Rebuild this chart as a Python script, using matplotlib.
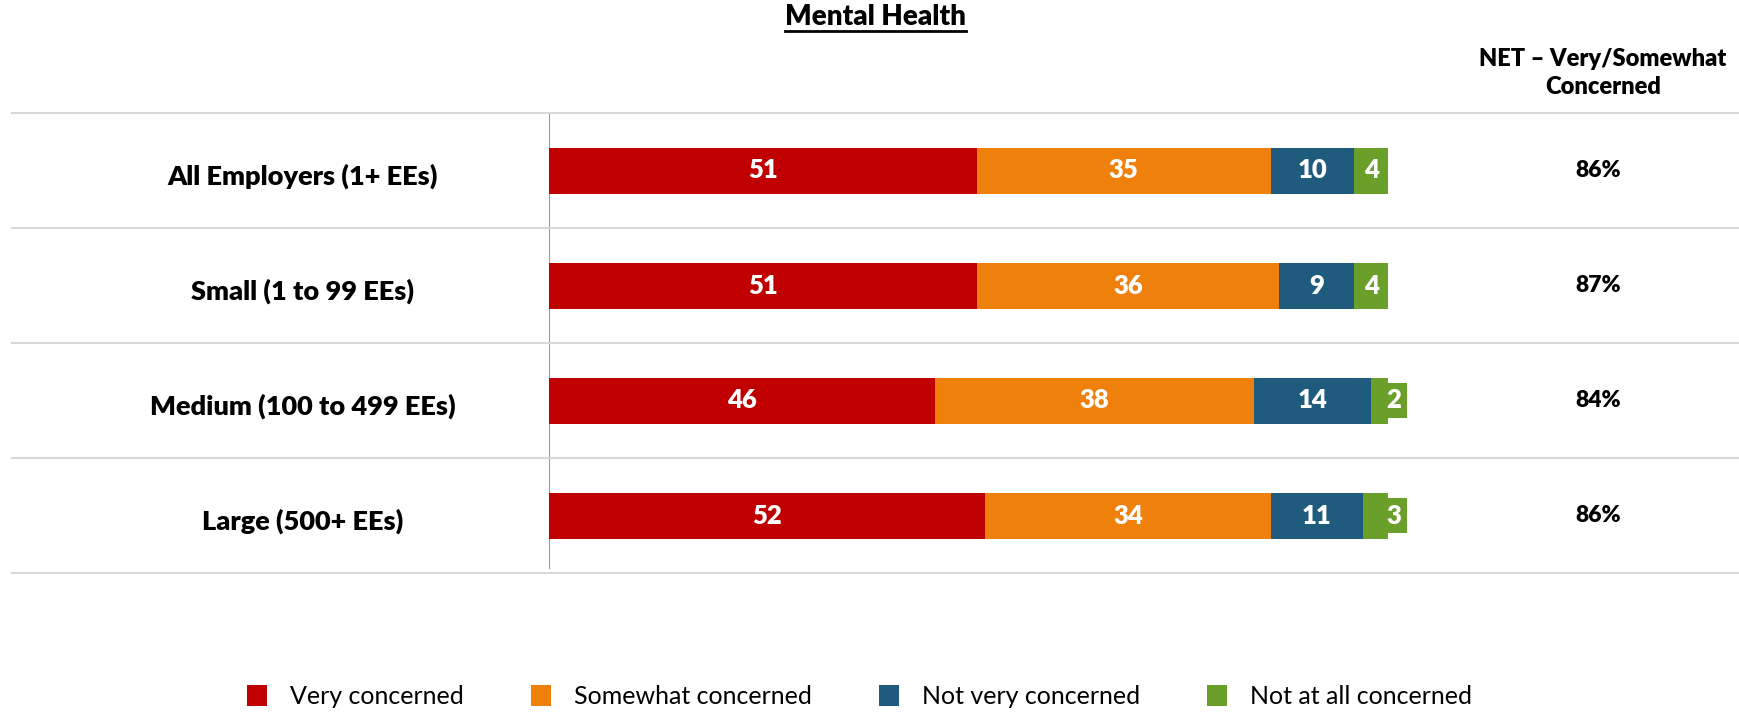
import matplotlib
matplotlib.use('Agg')
import matplotlib.pyplot as plt
from matplotlib.patches import Patch
from matplotlib.lines import Line2D
import numpy as np

plt.rcParams['font.family'] = ['Lato', 'DejaVu Sans']

# data
categories = ['All Employers (1+ EEs)', 'Small (1 to 99 EEs)',
              'Medium (100 to 499 EEs)', 'Large (500+ EEs)']
very = [51, 51, 46, 52]
somewhat = [35, 36, 38, 34]
not_very = [10, 9, 14, 11]
not_at_all = [4, 4, 2, 3]
net_concerned = [86, 87, 84, 86]
series_names = ['Very concerned', 'Somewhat concerned',
                'Not very concerned', 'Not at all concerned']
colors = ['#C00000', '#F0800C', '#1F5B7D', '#6A9F2A']


def main():
    fig = plt.figure(figsize=(17.4, 7.12), dpi=100)
    ax = fig.add_axes([549 / 1740, 1 - 573 / 712, 839 / 1740, 460 / 712])

    y = np.arange(len(categories))
    left = np.zeros(len(categories))
    for vals, name, col in zip([very, somewhat, not_very, not_at_all],
                               series_names, colors):
        ax.barh(y, vals, left=left, height=0.40, color=col, label=name)
        for yi, l, v in zip(y, left, vals):
            if v >= 4:
                ax.text(l + v / 2, yi, str(v), ha='center', va='center',
                        color='white', fontsize=18.5, fontweight='heavy')
            else:
                # small segment: label sits in a green box past the bar end
                ax.text(100.7, yi, str(v), ha='center', va='center',
                        color='white', fontsize=18.5, fontweight='heavy',
                        bbox=dict(boxstyle='square,pad=0.22', fc=col, ec='none'))
        left = left + np.array(vals)

    ax.set_xlim(0, 100)
    ax.set_ylim(len(categories) - 0.5, -0.5)
    ax.axis('off')

    # vertical axis line
    ax.axvline(0, ymin=0.01, ymax=0.995, color='#9a9a9a', lw=1.5, zorder=0)

    # row separators spanning the whole width
    for yy in np.arange(-0.5, len(categories), 1.0):
        ax.plot([-64.0, 142], [yy, yy], color='#d9d9d9', lw=1.5,
                clip_on=False, zorder=0)

    # category labels and NET values
    for yi, cat, net in zip(y, categories, net_concerned):
        ax.text(-29.4, yi + 0.05, cat, ha='center', va='center',
                fontsize=19.5, fontweight='heavy')
        ax.text(125.0, yi, f'{net}%', ha='center', va='center',
                fontsize=16.5, fontweight='heavy')

    ax.text(125.6, -0.85, 'NET \u2013 Very/Somewhat\nConcerned', ha='center',
            va='center', fontsize=17, fontweight='heavy', linespacing=1.35)

    title = fig.text(876 / 1740, 1 - 17 / 712, 'Mental Health', ha='center',
                     va='center', fontsize=20, fontweight='heavy')
    fig.canvas.draw()
    bb = title.get_window_extent().transformed(fig.transFigure.inverted())
    fig.add_artist(Line2D([bb.x0, bb.x1], [1 - 31 / 712, 1 - 31 / 712],
                          color='black', lw=2, transform=fig.transFigure))

    handles = [Patch(facecolor=c, edgecolor='none') for c in colors]
    fig.legend(handles, series_names, loc='center', ncol=4,
               bbox_to_anchor=(0.494, 0.022), frameon=False, fontsize=18,
               handlelength=0.8, handleheight=0.9, handletextpad=0.9,
               columnspacing=2.7)

    fig.savefig('out.png', dpi=100, facecolor='white')


if __name__ == '__main__':
    main()
